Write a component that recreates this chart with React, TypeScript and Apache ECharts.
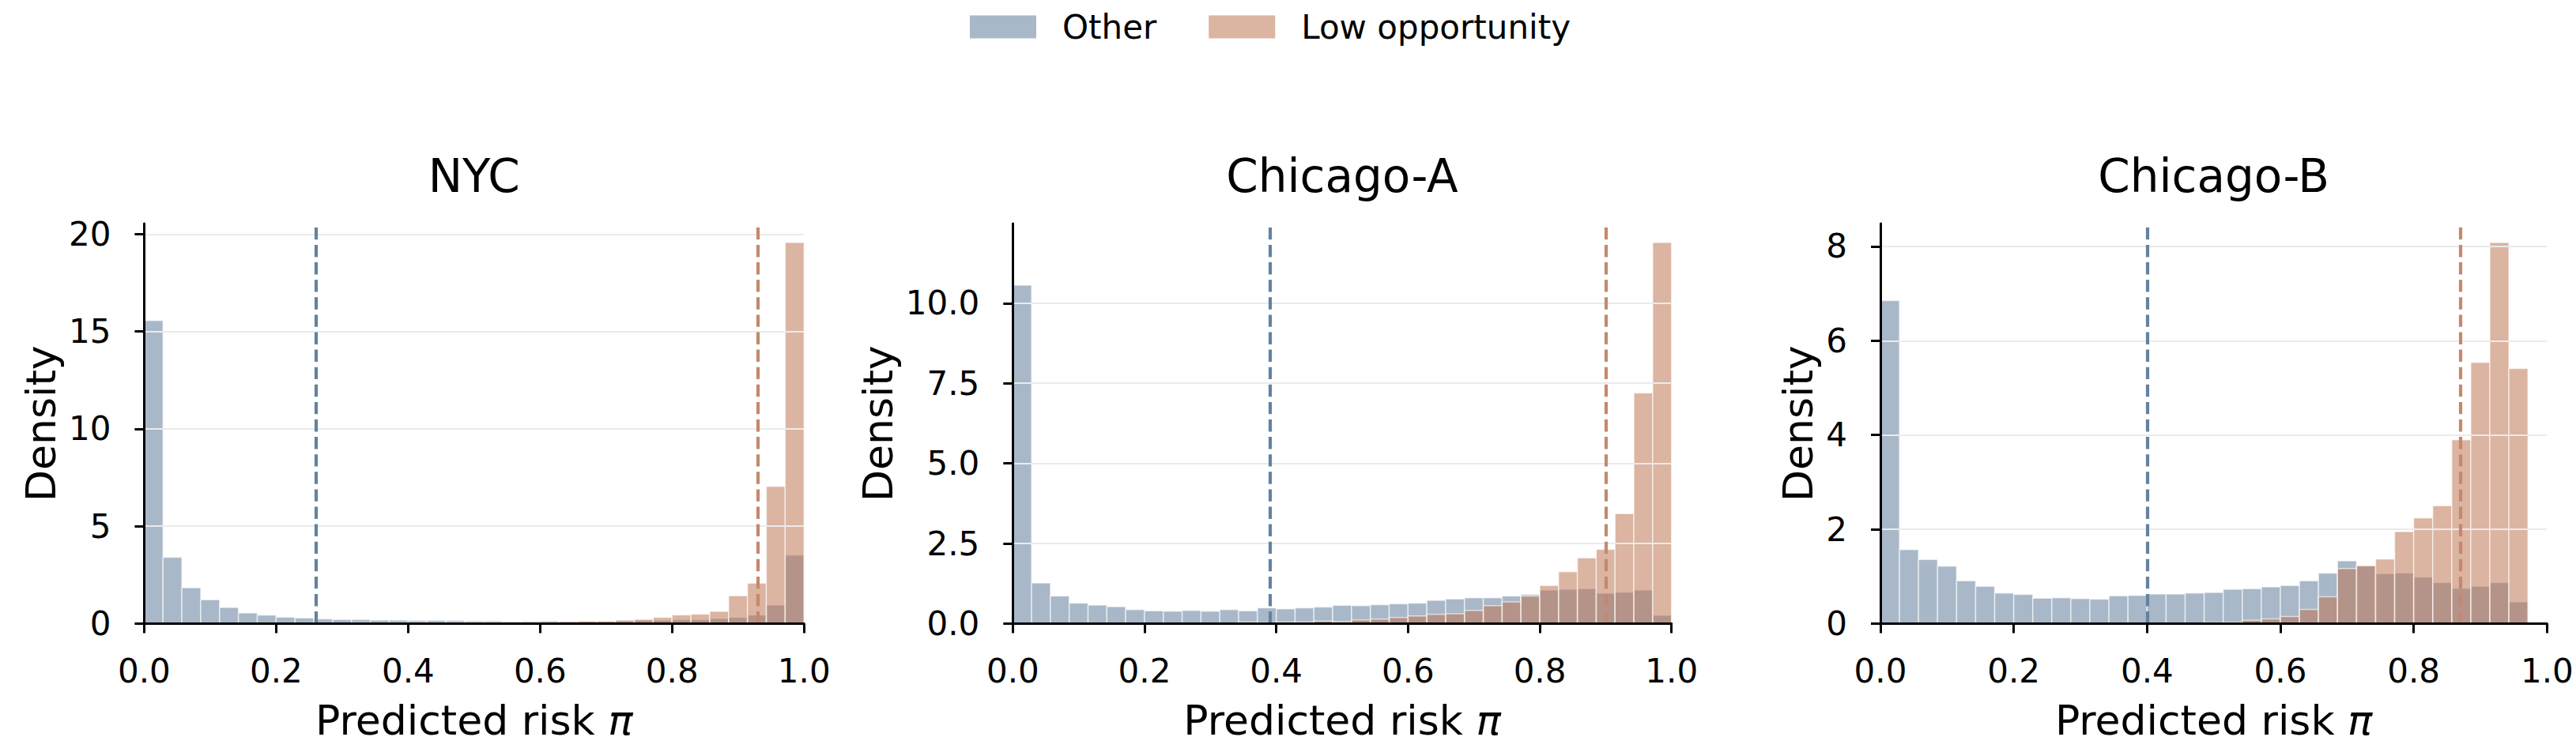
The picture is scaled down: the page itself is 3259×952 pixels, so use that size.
import React, { useEffect, useRef } from "react";
import * as echarts from "echarts";

// ---------- data ----------
const N_BINS = 35; // equal-width bins over [0, 1]
const PANEL_TITLES = ["NYC", "Chicago-A", "Chicago-B"];
const SERIES_NAMES = ["Other", "Low opportunity"];
const X_TICKS = [0, 0.2, 0.4, 0.6, 0.8, 1.0];

const NYC_OTHER = [
  15.56, 3.41, 1.84, 1.23, 0.83, 0.55, 0.44, 0.33, 0.29, 0.24, 0.21, 0.21,
  0.18, 0.18, 0.16, 0.17, 0.16, 0.14, 0.14, 0.12, 0.13, 0.14, 0.1, 0.1, 0.1,
  0.13, 0.16, 0.17, 0.2, 0.2, 0.26, 0.32, 0.44, 0.95, 3.52,
];
const NYC_LOW = [
  0.0, 0.0, 0.01, 0.01, 0.01, 0.01, 0.02, 0.02, 0.02, 0.03, 0.03, 0.05, 0.04,
  0.05, 0.06, 0.05, 0.06, 0.07, 0.07, 0.07, 0.07, 0.06, 0.11, 0.13, 0.13,
  0.18, 0.22, 0.32, 0.45, 0.49, 0.63, 1.43, 2.08, 7.05, 19.56,
];
const CHA_OTHER = [
  10.56, 1.27, 0.86, 0.64, 0.58, 0.53, 0.44, 0.4, 0.39, 0.41, 0.39, 0.44, 0.4,
  0.49, 0.46, 0.49, 0.52, 0.57, 0.56, 0.59, 0.62, 0.64, 0.73, 0.77, 0.81,
  0.81, 0.86, 0.91, 1.05, 1.07, 1.09, 0.95, 0.98, 1.05, 0.26,
];
const CHA_LOW = [
  0.0, 0.0, 0.0, 0.0, 0.0, 0.01, 0.01, 0.01, 0.01, 0.01, 0.01, 0.02, 0.05,
  0.03, 0.05, 0.05, 0.08, 0.06, 0.12, 0.14, 0.19, 0.24, 0.29, 0.31, 0.41,
  0.56, 0.68, 0.86, 1.19, 1.62, 2.05, 2.32, 3.43, 7.2, 11.89,
];
const CHB_OTHER = [
  6.85, 1.57, 1.36, 1.22, 0.91, 0.79, 0.65, 0.62, 0.54, 0.55, 0.53, 0.52,
  0.59, 0.6, 0.63, 0.63, 0.65, 0.66, 0.73, 0.74, 0.78, 0.81, 0.91, 1.07, 1.33,
  1.22, 1.06, 1.07, 0.99, 0.87, 0.75, 0.79, 0.87, 0.46, 0.0,
];
const CHB_LOW = [
  0.0, 0.0, 0.0, 0.0, 0.0, 0.0, 0.0, 0.0, 0.0, 0.0, 0.0, 0.0, 0.0, 0.0, 0.0,
  0.01, 0.01, 0.02, 0.03, 0.07, 0.1, 0.15, 0.3, 0.57, 1.17, 1.23, 1.37, 1.95,
  2.24, 2.5, 3.9, 5.54, 8.08, 5.41, 0.0,
];

const THRESHOLD_OTHER = [0.2555, 0.3885, 0.4013];
const THRESHOLD_LOW = [0.9286, 0.8973, 0.8658];

const NYC_Y_TICKS = [0, 5, 10, 15, 20];
const CHA_Y_TICKS = [0, 2.5, 5, 7.5, 10];
const CHB_Y_TICKS = [0, 2, 4, 6, 8];
const Y_TICK_DECIMALS = [0, 1, 0];

// ---------- style / layout ----------
const FONT = "'DejaVu Sans', 'Noto Sans', sans-serif";
const OTHER_FILL = "rgba(99,126,155,0.55)";
const LOW_FILL = "rgba(190,119,86,0.55)";
const EDGE = "rgba(255,255,255,0.6)";
const OTHER_DASH = "rgb(100,130,160)";
const LOW_DASH = "rgb(198,136,108)";
const GRID_LEFT = [182.4, 1281.3, 2379];
const GRID_WIDTH = [834.8, 833.4, 843.3];
const GRID_TOP = 283;
const GRID_HEIGHT = 506.5;
const Y_NAME_GAP = [104, 144, 78];

function makeRender(fill: string) {
  return (params: any, api: any) => {
    const x0 = api.value(0);
    const x1 = api.value(1);
    const y = api.value(2);
    if (!(y > 0)) return null;
    const p0 = api.coord([x0, y]);
    const p1 = api.coord([x1, 0]);
    return {
      type: "rect",
      shape: { x: p0[0], y: p0[1], width: p1[0] - p0[0], height: p1[1] - p0[1] },
      style: { fill, stroke: EDGE, lineWidth: 1.5 },
    };
  };
}

function buildOption() {
  const others = [NYC_OTHER, CHA_OTHER, CHB_OTHER];
  const lows = [NYC_LOW, CHA_LOW, CHB_LOW];
  const yTicks = [NYC_Y_TICKS, CHA_Y_TICKS, CHB_Y_TICKS];

  const grid: any[] = [];
  const xAxis: any[] = [];
  const yAxis: any[] = [];
  const series: any[] = [];
  const title: any[] = [];

  for (let k = 0; k < 3; k++) {
    const ymax = 1.05 * Math.max(...others[k], ...lows[k]);
    grid.push({ left: GRID_LEFT[k], top: GRID_TOP, width: GRID_WIDTH[k], height: GRID_HEIGHT });
    title.push({
      text: PANEL_TITLES[k],
      left: GRID_LEFT[k] + GRID_WIDTH[k] / 2,
      textAlign: "center",
      top: 194,
      padding: 0,
      textStyle: { fontSize: 58, fontWeight: "normal", color: "#000", fontFamily: FONT },
    });
    xAxis.push({
      gridIndex: k,
      type: "value",
      min: 0,
      max: 1,
      interval: 0.2,
      z: 10,
      axisLine: { show: true, lineStyle: { color: "#000", width: 3 } },
      axisTick: { show: true, length: 12, lineStyle: { color: "#000", width: 3 } },
      axisLabel: {
        fontSize: 42,
        color: "#000",
        fontFamily: FONT,
        margin: 39,
        formatter: (v: number) => v.toFixed(1),
      },
      splitLine: { show: false },
      name: "Predicted risk {i|π}",
      nameLocation: "middle",
      nameGap: 96,
      nameTextStyle: {
        fontSize: 52,
        color: "#000",
        fontFamily: FONT,
        rich: { i: { fontSize: 52, fontStyle: "italic", color: "#000", fontFamily: FONT } },
      },
    });
    yAxis.push({
      gridIndex: k,
      type: "value",
      min: 0,
      max: ymax,
      z: 10,
      axisLine: { show: true, lineStyle: { color: "#000", width: 3 } },
      axisTick: {
        show: true,
        length: 12,
        lineStyle: { color: "#000", width: 3 },
        customValues: yTicks[k],
      },
      axisLabel: {
        customValues: yTicks[k],
        fontSize: 42,
        color: "#000",
        fontFamily: FONT,
        margin: 42,
        formatter: (v: number) => v.toFixed(Y_TICK_DECIMALS[k]),
      },
      splitLine: { show: false },
      name: "Density",
      nameLocation: "middle",
      nameRotate: 90,
      nameGap: Y_NAME_GAP[k],
      nameTextStyle: { fontSize: 52, color: "#000", fontFamily: FONT },
    });

    // gridlines (below bars)
    series.push({
      type: "line",
      xAxisIndex: k,
      yAxisIndex: k,
      data: [],
      silent: true,
      z: 1,
      markLine: {
        silent: true,
        symbol: ["none", "none"],
        label: { show: false },
        lineStyle: { color: "#ebebeb", width: 2, type: "solid" },
        emphasis: { disabled: true },
        data: yTicks[k].filter((v) => v > 0).map((v) => ({ yAxis: v })),
      },
    });

    const binsOther = others[k].map((v, i) => [i / N_BINS, (i + 1) / N_BINS, v]);
    const binsLow = lows[k].map((v, i) => [i / N_BINS, (i + 1) / N_BINS, v]);
    series.push({
      type: "custom",
      name: SERIES_NAMES[0],
      xAxisIndex: k,
      yAxisIndex: k,
      z: 2,
      itemStyle: { color: OTHER_FILL },
      encode: { x: [0, 1], y: 2 },
      renderItem: makeRender(OTHER_FILL),
      data: binsOther,
    });
    series.push({
      type: "custom",
      name: SERIES_NAMES[1],
      xAxisIndex: k,
      yAxisIndex: k,
      z: 3,
      itemStyle: { color: LOW_FILL },
      encode: { x: [0, 1], y: 2 },
      renderItem: makeRender(LOW_FILL),
      data: binsLow,
    });
    // threshold lines (on top)
    series.push({
      type: "line",
      xAxisIndex: k,
      yAxisIndex: k,
      data: [],
      silent: true,
      z: 5,
      markLine: {
        silent: true,
        symbol: ["none", "none"],
        label: { show: false },
        emphasis: { disabled: true },
        lineStyle: { width: 4.2, type: [15.4, 6.7] },
        data: [
          { xAxis: THRESHOLD_OTHER[k], lineStyle: { color: OTHER_DASH, width: 4.2, type: [15.4, 6.7] } },
          { xAxis: THRESHOLD_LOW[k], lineStyle: { color: LOW_DASH, width: 4.2, type: [15.4, 6.7] } },
        ],
      },
    });
  }

  return {
    animation: false,
    backgroundColor: "#fff",
    textStyle: { fontFamily: FONT },
    title,
    legend: {
      left: 1227,
      top: 13,
      padding: 0,
      itemWidth: 84,
      itemHeight: 29,
      itemGap: 66,
      icon: "rect",
      selectedMode: false,
      data: [
        { name: SERIES_NAMES[0], itemStyle: { color: OTHER_FILL } },
        { name: SERIES_NAMES[1], itemStyle: { color: LOW_FILL } },
      ],
      textStyle: { fontSize: 42, color: "#000", fontFamily: FONT, padding: [0, 0, 0, 28] },
    },
    grid,
    xAxis,
    yAxis,
    series,
  };
}

export default function App() {
  const ref = useRef<HTMLDivElement>(null);
  useEffect(() => {
    document.body.style.margin = "0";
    if (!ref.current) return;
    const chart = echarts.init(ref.current, undefined, { renderer: "svg" });
    chart.setOption(buildOption() as any);
    return () => chart.dispose();
  }, []);
  return <div ref={ref} style={{ width: 3259, height: 952 }} />;
}
